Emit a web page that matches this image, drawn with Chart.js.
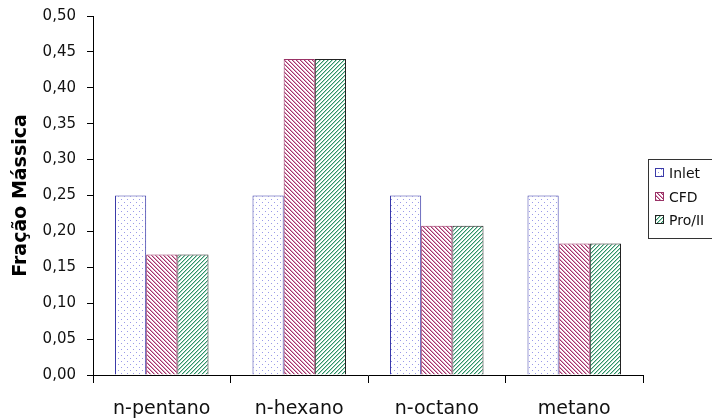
<!DOCTYPE html>
<html><head><meta charset="utf-8">
<script src="https://cdn.jsdelivr.net/npm/chart.js@4/dist/chart.umd.min.js"></script>
<style>html,body{margin:0;padding:0;background:#fff}#wrap{width:712px;height:419px}</style>
</head><body><div id="wrap"><canvas id="c" width="712" height="419"></canvas></div>
<script>
const categories = ['n-pentano', 'n-hexano', 'n-octano', 'metano'];
const inletValues = [0.25, 0.25, 0.25, 0.25];
const cfdValues = [0.168, 0.44, 0.208, 0.183];
const proiiValues = [0.168, 0.44, 0.208, 0.183];
const seriesNames = ['Inlet', 'CFD', 'Pro/II'];
const yTicks = [0, 0.05, 0.10, 0.15, 0.20, 0.25, 0.30, 0.35, 0.40, 0.45, 0.50];

const FONT = '"DejaVu Sans", sans-serif';
function mk(size, draw){const c=document.createElement('canvas');c.width=size;c.height=size;const x=c.getContext('2d');x.fillStyle='#fff';x.fillRect(0,0,size,size);draw(x);return document.getElementById('c').getContext('2d').createPattern(c,'repeat');}
const dotPat = mk(6, x=>{x.fillStyle='#9a9ae8';x.fillRect(1,1,1,1);x.fillRect(4,4,1,1);});
const backPat = mk(4, x=>{for(let i=0;i<4;i++){x.fillStyle='#a3336b';x.fillRect(i,i,1,1);x.fillStyle='#dca0bd';x.fillRect((i+1)%4,i,1,1);}});
const slashPat = mk(4, x=>{for(let i=0;i<4;i++){x.fillStyle='#2f8f68';x.fillRect(3-i,i,1,1);x.fillStyle='#a8d8c0';x.fillRect((3-i+1)%4,i,1,1);}});

const legendPlugin = {id:'boxLegend', afterDraw(chart){
  const ctx=chart.ctx; ctx.save();
  ctx.strokeStyle='#333'; ctx.lineWidth=1;
  ctx.strokeRect(648.5,159.5,80,79);
  ctx.font='14px ' + FONT; ctx.textBaseline='middle'; ctx.fillStyle='#000';
  const ys=[173,197,220];
  chart.data.datasets.forEach((d,i)=>{
    ctx.fillStyle=d.backgroundColor; ctx.fillRect(655,ys[i]-4,8,8);
    ctx.strokeStyle=d.borderColor; ctx.strokeRect(655.5,ys[i]-4.5,8,8);
    ctx.fillStyle='#111'; ctx.fillText(d.label,669,ys[i]+1);
  });
  ctx.restore();
}};

new Chart(document.getElementById('c'), {
  type:'bar',
  data:{labels:categories, datasets:[
    {label:seriesNames[0], data:inletValues, backgroundColor:dotPat, borderColor:'#3a3aa8', borderWidth:1},
    {label:seriesNames[1], data:cfdValues, backgroundColor:backPat, borderColor:'#993366', borderWidth:1},
    {label:seriesNames[2], data:proiiValues, backgroundColor:slashPat, borderColor:'#222', borderWidth:1}
  ]},
  options:{
    responsive:false, animation:false, devicePixelRatio:1,
    layout:{padding:{top:16,right:69,left:10,bottom:0}},
    datasets:{bar:{barPercentage:1, categoryPercentage:0.68, borderSkipped:'start'}},
    plugins:{legend:{display:false}, tooltip:{enabled:false}},
    scales:{
      x:{grid:{display:true, offset:true, drawOnChartArea:false, drawTicks:true, tickLength:8, color:'#000'},
         border:{color:'#000'},
         ticks:{color:'#111', padding:15, font:{family:FONT, size:19}},
         afterFit(s){s.height=44;}},
      y:{min:0, max:0.5, afterBuildTicks(s){s.ticks=yTicks.map(v=>({value:v}));},
         grid:{drawOnChartArea:false, drawTicks:true, tickLength:6, color:'#000'},
         border:{color:'#000'},
         ticks:{color:'#111', padding:11, font:{family:FONT, size:15}, callback:v=>v.toFixed(2).replace('.',',')},
         title:{display:true, text:'Fração Mássica', color:'#000', padding:{top:0,bottom:0}, font:{family:FONT, size:19, weight:'bold'}},
         afterFit(s){s.width=83; s.paddingTop=0; s.paddingBottom=0;}}
    }
  },
  plugins:[legendPlugin]
});
</script></body></html>
